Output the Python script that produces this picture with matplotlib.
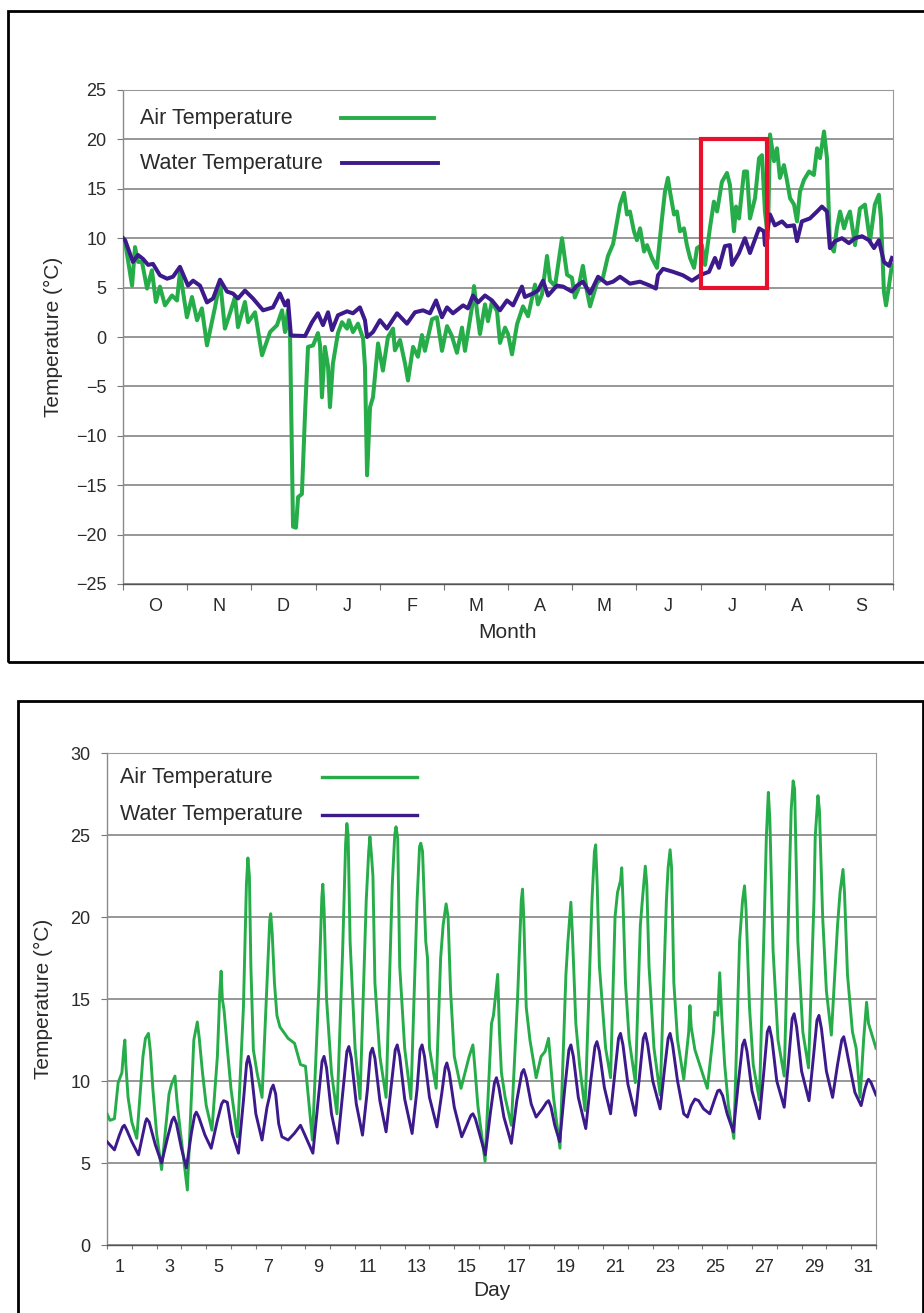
import matplotlib
matplotlib.use("Agg")
import matplotlib.pyplot as plt
from matplotlib.patches import Rectangle
from matplotlib.lines import Line2D

plt.rcParams['font.family'] = ['Liberation Sans', 'DejaVu Sans']

# ---------------- data: top chart (daily, one year Oct-Sep) ----------------
months = ['O', 'N', 'D', 'J', 'F', 'M', 'A', 'M', 'J', 'J', 'A', 'S']
year_days = 365

air_day = [0, 1, 4.3, 5.7, 7.1, 9, 11.4, 13.7, 15.6, 17.5, 19.9, 23.2, 25.6, 27, 30.3, 32.7,
           35.1, 37.4, 39.8, 43.6, 46, 48.3, 50.7, 53.1, 54.5, 57.8, 59.3, 62.6, 65.9, 69.7,
           73, 75.4, 76.8, 78.2, 79.2, 80.6, 82, 83, 84.8, 86.3, 87.7, 90.1, 92.4, 93.4, 94.3,
           95.7, 97.2, 98.1, 99.5, 101.9, 103.8, 106.2, 107.1, 109, 111.4, 113.8, 114.7, 115.7,
           117.1, 118.5, 120.9, 123.2, 125.6, 128, 128.9, 131.3, 133.7, 135.1, 137.5, 139.8,
           141.7, 143.1, 146.5, 148.8, 151.2, 153.6, 155.9, 158.3, 160.7, 162.1, 165.4, 166.4,
           167.8, 169.2, 171.6, 173, 174.9, 177.3, 178.7, 181.1, 182.5, 184.4, 186.8, 189.6,
           192, 195.3, 196.7, 198.6, 201, 202.4, 204.8, 208.1, 210.5, 212.8, 214.2, 215.7, 218,
           219.9, 221.4, 224.7, 227.5, 229.9, 232.3, 235.6, 237.5, 238.9, 240.3, 242.2, 243.6,
           245.1, 247, 248.4, 250.7, 253.1, 255.5, 256.9, 258.3, 259.3, 261.2, 262.6, 264,
           265.9, 267.3, 268.8, 270.7, 272.1, 274.4, 275.9, 278.2, 280.1, 281.6, 283.9, 286.3,
           287.7, 289.6, 290.6, 292, 294.4, 295.8, 297.2, 299.6, 301.5, 302.9, 304.3, 305.7,
           306.7, 308.6, 310, 311.4, 313.3, 314.7, 316.2, 318.1, 319.5, 320.9, 322.8, 325.2,
           327.5, 329, 330.4, 332.3, 333.7, 335.1, 337, 338.4, 339.9, 341.8, 343.2, 344.6, 347,
           349.3, 351.7, 354.1, 356.4, 358.3, 359.3, 360.7, 361.7, 363.1, 364.5]
air_temp = [10, 9.6, 5.2, 9.1, 7.6, 7.6, 4.9, 6.75, 3.55, 5.1, 3.2, 4.2, 3.7, 6.6, 2.0, 4.05,
            1.7, 2.9, -0.85, 3.0, 5.7, 0.85, 2.4, 4.05, 1.0, 3.55, 1.5, 2.5, -1.85, 0.5,
            1.2, 2.7, 0.5, 2.7, 0.0, -19.2, -19.3, -16.2, -15.9, -7.7, -1.0, -0.85, 0.4, -0.8, -6.1,
            -1.0, -3.0, -7.1, -2.7, 0.4, 1.5, 0.85, 1.7, 0.5, 1.35, -0.15, -3.0, -14.0,
            -7.1, -6.1, -0.65, -3.4, 0.0, 0.85, -1.35, -0.3, -2.7, -4.4, -1.0, -2.0,
            0.2, -1.4, 1.8, 2.0, -1.4, 1.1, 0.1, -1.6, 0.95, -1.4, 3.0, 5.15,
            2.6, 0.3, 3.3, 1.6, 3.6, 2.6, -0.6, 0.95, 0.3, -1.75, 1.3, 3.1,
            2.1, 5.3, 3.3, 4.3, 8.2, 5.7, 5.15, 10.0, 6.3, 6.0, 4.0, 4.8, 7.2,
            4.65, 3.1, 5.5, 6.0, 8.2, 9.4, 13.4, 14.6, 12.4, 12.7, 10.7, 9.8,
            11.0, 8.65, 9.3, 8.0, 7.0, 12.0, 14.7, 16.1, 14.7, 12.4, 12.7, 10.7,
            11.0, 9.3, 8.0, 7.0, 9.0, 9.3, 7.3, 11.0, 13.7, 12.7, 15.7, 16.6,
            15.4, 10.7, 13.2, 12.0, 16.75, 16.75, 12.0, 14.05, 18.1, 18.4, 12.7, 10.0,
            20.5, 17.8, 19.1, 16.1, 17.4, 15.9, 14.05, 13.4, 11.7, 14.7, 15.9, 16.75,
            16.4, 19.1, 18.1, 20.8, 18.1, 9.3, 8.65, 11.0, 12.7, 11.0, 12.0, 12.7, 9.3,
            13.0, 13.4, 9.7, 13.4, 14.4, 12.0, 4.6, 3.2, 5.2, 7.3]

water_day = [0, 1, 4.7, 7.1, 9.5, 11.9, 14.2, 17.5, 20.9, 23.7, 27, 30.8, 33.2, 36.5, 39.8,
             42.7, 46, 49.3, 52.1, 54.5, 57.8, 61.6, 66.4, 71.1, 74.4, 76.8, 78.2, 79.6, 86.3,
             89.6, 92.4, 94.8, 97.2, 99.1, 101.9, 106.2, 109, 112.3, 114.7, 115.7, 118.5,
             121.8, 125.1, 129.9, 134.6, 138.4, 142.2, 145.5, 148.4, 151.2, 153.6, 156.4,
             161.2, 163.5, 165.9, 168.3, 171.6, 174.9, 178.7, 182, 184.9, 189.1, 190.5,
             194.3, 196.7, 199.1, 201.5, 205.7, 208.6, 212.8, 215.2, 218, 221.4, 225.2,
             229.4, 232.3, 235.6, 240.3, 245.1, 249.8, 252.6, 253.6, 256, 260.7, 265.4,
             269.7, 274, 277.8, 280.6, 282.5, 285.3, 287.7, 288.7, 292, 294.8, 297.2, 301.5,
             303.8, 304.3, 306.7, 309, 312.4, 314.7, 318.1, 319.5, 321.8, 325.6, 329, 331.3,
             333.7, 335.1, 337.5, 340.8, 344.1, 347, 350.3, 353.6, 356, 358.3, 360.7, 363.1,
             364.5]
water_temp = [10, 9.8, 7.6, 8.3, 7.9, 7.3, 7.4, 6.25, 5.9, 6.1, 7.1, 5.2, 5.7, 5.2, 3.5,
              3.9, 5.8, 4.6, 4.4, 3.9, 4.7, 3.9, 2.7, 3.0, 4.4, 3.2, 3.7, 0.15, 0.1,
              1.5, 2.4, 1.2, 2.5, 0.7, 2.2, 2.6, 2.4, 3.0, 1.7, 0.0, 0.5,
              1.7, 0.85, 2.4, 1.35, 2.5, 2.7, 2.4, 3.7, 2.0, 3.0, 2.4,
              3.2, 2.9, 4.2, 3.5, 4.2, 3.7, 2.7, 3.7, 3.2, 5.1, 4.05,
              4.4, 4.7, 5.7, 4.2, 5.2, 5.1, 4.6, 5.2, 5.6, 4.4, 6.1,
              5.4, 5.6, 6.1, 5.4, 5.6, 5.2, 4.9, 6.25, 6.9, 6.6, 6.25,
              5.7, 6.3, 6.6, 8.0, 7.0, 9.2, 9.3, 7.3, 8.5, 10.0, 8.5, 11.0,
              10.7, 9.3, 12.4, 11.3, 11.7, 11.2, 11.3, 9.7, 11.7, 12.0, 12.7, 13.2,
              12.7, 9.0, 9.7, 10.0, 9.5, 10.0, 10.2, 9.8, 9.0, 9.8, 7.6, 7.2,
              8.0]

# highlighted month (July) and temperature range of the red box
box_month = 9
box_temp_range = (5, 20)

# ---------------- data: bottom chart (July, sub-daily) ----------------
day_labels = list(range(1, 32, 2))
n_days = 31

jul_air_t = [0.0, 0.12, 0.3, 0.45, 0.6, 0.68, 0.72, 0.76, 0.85, 1.0,
             1.2, 1.45, 1.55, 1.67, 1.75, 1.85, 2.0, 2.2, 2.5, 2.6,
             2.74, 2.82, 2.95, 3.24, 3.5, 3.64, 3.72, 3.85, 4.0, 4.23,
             4.45, 4.55, 4.6, 4.65, 4.72, 4.85, 5.0, 5.26, 5.5, 5.62,
             5.68, 5.74, 5.8, 5.9, 6.05, 6.25, 6.45, 6.56, 6.6, 6.66,
             6.75, 6.85, 6.97, 7.3, 7.56, 7.8, 8.0, 8.28, 8.55, 8.66,
             8.7, 8.75, 8.85, 9.05, 9.27, 9.5, 9.62, 9.67, 9.72, 9.8,
             10.0, 10.2, 10.45, 10.55, 10.6, 10.66, 10.72, 10.8, 11.0, 11.25,
             11.5, 11.6, 11.65, 11.72, 11.8, 12.0, 12.25, 12.5, 12.6, 12.65,
             12.72, 12.85, 12.92, 13.0, 13.27, 13.45, 13.55, 13.67, 13.75, 13.85,
             14.0, 14.27, 14.6, 14.75, 14.82, 14.95, 15.24, 15.5, 15.58, 15.75,
             15.82, 15.9, 16.05, 16.3, 16.55, 16.7, 16.75, 16.8, 16.9, 17.05,
             17.3, 17.5, 17.66, 17.8, 18.0, 18.26, 18.5, 18.58, 18.7, 18.76,
             18.9, 19.05, 19.27, 19.55, 19.65, 19.7, 19.76, 19.85, 19.95, 20.1,
             20.3, 20.48, 20.58, 20.7, 20.75, 20.8, 20.9, 21.05, 21.3, 21.5,
             21.58, 21.7, 21.76, 21.85, 22.05, 22.3, 22.55, 22.62, 22.7, 22.76,
             22.85, 23.0, 23.25, 23.45, 23.5, 23.55, 23.7, 24.0, 24.2, 24.45,
             24.5, 24.62, 24.7, 24.78, 24.9, 25.05, 25.27, 25.5, 25.62, 25.7,
             25.76, 25.9, 26.05, 26.3, 26.5, 26.58, 26.66, 26.72, 26.85, 27.05,
             27.3, 27.5, 27.58, 27.66, 27.72, 27.85, 28.05, 28.28, 28.5, 28.55,
             28.66, 28.72, 28.85, 29.0, 29.2, 29.45, 29.55, 29.67, 29.73, 29.85,
             30.05, 30.2, 30.36, 30.5, 30.62, 30.7, 30.8, 30.9, 31.0]
jul_air_temp = [8.0, 7.6, 7.7, 9.9, 10.5, 12.0, 12.5, 11.0, 9.0, 7.5,
                6.5, 11.5, 12.6, 12.9, 11.8, 9.5, 6.8, 4.6, 9.2, 9.8,
                10.3, 8.8, 7.0, 3.35, 12.5, 13.6, 12.6, 10.5, 8.5, 7.0,
                11.5, 15.5, 16.7, 15.0, 14.3, 12.0, 9.5, 6.6, 14.5, 22.0,
                23.6, 22.5, 17.0, 11.9, 10.5, 9.0, 16.0, 19.8, 20.2, 19.0,
                16.0, 14.0, 13.3, 12.6, 12.3, 11.0, 10.9, 6.4, 16.0, 21.2,
                22.0, 20.5, 15.0, 10.5, 8.0, 18.0, 24.5, 25.7, 25.0, 18.5,
                12.0, 8.9, 21.0, 24.0, 24.9, 23.8, 22.5, 16.0, 11.5, 9.0,
                22.0, 25.0, 25.5, 24.8, 17.0, 12.0, 8.9, 21.0, 24.3, 24.5,
                24.0, 18.5, 17.5, 12.0, 9.55, 17.5, 19.5, 20.8, 20.0, 15.5,
                11.5, 9.55, 11.5, 12.2, 11.0, 8.5, 5.1, 13.5, 14.0, 16.5,
                13.0, 10.5, 9.0, 7.3, 15.0, 21.0, 21.7, 20.0, 14.5, 12.5,
                10.2, 11.5, 11.8, 12.6, 9.0, 5.9, 16.5, 18.5, 20.9, 19.0,
                13.5, 11.0, 8.2, 21.0, 24.0, 24.4, 22.0, 17.0, 15.0, 12.0,
                10.2, 20.0, 21.5, 22.2, 23.0, 21.0, 16.0, 12.5, 9.9, 19.5,
                21.0, 23.1, 22.0, 17.0, 12.0, 9.15, 21.0, 23.0, 24.1, 23.0,
                16.0, 12.5, 10.1, 13.0, 14.6, 13.3, 11.9, 10.5, 9.55, 13.0,
                14.2, 14.0, 16.6, 14.0, 11.0, 8.5, 6.5, 18.5, 21.0, 21.9,
                20.5, 14.5, 11.0, 8.85, 20.0, 24.9, 27.6, 26.0, 18.0, 12.5,
                10.3, 22.0, 26.5, 28.3, 27.8, 18.5, 13.0, 10.8, 21.0, 24.9,
                27.4, 26.5, 20.0, 15.5, 12.8, 19.5, 21.5, 22.9, 21.5, 16.5,
                13.0, 12.0, 9.0, 12.5, 14.8, 13.5, 13.0, 12.5, 12.0]

jul_water_t = [0.0, 0.3, 0.5, 0.63, 0.7, 0.8, 1.0, 1.27, 1.45, 1.55,
               1.6, 1.7, 1.95, 2.2, 2.45, 2.62, 2.7, 2.8, 3.0, 3.2,
               3.4, 3.53, 3.6, 3.7, 3.95, 4.2, 4.45, 4.62, 4.7, 4.85,
               5.05, 5.3, 5.5, 5.63, 5.7, 5.8, 6.0, 6.25, 6.45, 6.62,
               6.7, 6.8, 6.92, 7.05, 7.3, 7.55, 7.8, 7.95, 8.3, 8.5,
               8.67, 8.75, 8.85, 9.05, 9.3, 9.5, 9.67, 9.75, 9.85, 10.05,
               10.3, 10.5, 10.62, 10.7, 10.8, 11.0, 11.25, 11.45, 11.62, 11.7,
               11.8, 12.0, 12.3, 12.5, 12.62, 12.7, 12.8, 13.0, 13.3, 13.5,
               13.63, 13.7, 13.8, 14.0, 14.3, 14.5, 14.67, 14.75, 14.85, 15.05,
               15.25, 15.45, 15.62, 15.7, 15.8, 16.0, 16.3, 16.52, 16.72, 16.8,
               16.9, 17.1, 17.3, 17.55, 17.72, 17.8, 17.9, 18.05, 18.25, 18.45,
               18.62, 18.7, 18.8, 19.0, 19.3, 19.5, 19.67, 19.75, 19.85, 20.05,
               20.3, 20.48, 20.62, 20.7, 20.8, 21.0, 21.3, 21.48, 21.62, 21.7,
               21.8, 22.0, 22.3, 22.48, 22.62, 22.7, 22.8, 23.0, 23.25, 23.4,
               23.55, 23.7, 23.85, 24.05, 24.3, 24.5, 24.62, 24.7, 24.82, 25.0,
               25.25, 25.45, 25.62, 25.7, 25.8, 26.0, 26.3, 26.48, 26.62, 26.7,
               26.8, 27.0, 27.3, 27.48, 27.62, 27.7, 27.8, 28.0, 28.3, 28.48,
               28.62, 28.7, 28.8, 29.0, 29.25, 29.45, 29.62, 29.7, 29.8, 29.9,
               30.15, 30.4, 30.55, 30.65, 30.7, 30.8, 31.0]
jul_water_temp = [6.3, 5.8, 6.7, 7.2, 7.3, 7.0, 6.3, 5.5, 6.8, 7.5,
                  7.7, 7.5, 6.1, 5.0, 6.6, 7.6, 7.8, 7.4, 5.9, 4.7,
                  6.8, 7.9, 8.1, 7.8, 6.7, 5.9, 7.6, 8.6, 8.8, 8.7,
                  6.8, 5.6, 8.8, 11.1, 11.5, 10.8, 8.0, 6.4, 8.4, 9.5,
                  9.75, 9.2, 7.4, 6.6, 6.4, 6.8, 7.3, 6.8, 5.6, 8.6,
                  11.2, 11.5, 10.8, 8.0, 6.2, 9.2, 11.8, 12.1, 11.4, 8.6,
                  6.7, 9.5, 11.7, 12.0, 11.4, 8.8, 6.9, 9.6, 11.9, 12.2,
                  11.5, 8.9, 6.8, 9.5, 11.9, 12.2, 11.5, 9.0, 7.2, 9.3,
                  10.8, 11.1, 10.5, 8.4, 6.6, 7.3, 7.9, 8.0, 7.7, 6.6,
                  5.5, 8.0, 9.9, 10.2, 9.6, 7.8, 6.2, 8.8, 10.5, 10.7,
                  10.2, 8.6, 7.8, 8.3, 8.7, 8.8, 8.4, 7.3, 6.3, 9.5,
                  11.9, 12.2, 11.5, 9.0, 7.1, 10.0, 12.1, 12.4, 11.8, 9.6,
                  8.0, 10.6, 12.6, 12.9, 12.2, 9.8, 7.9, 10.5, 12.6, 12.9,
                  12.2, 10.0, 8.3, 10.8, 12.6, 12.9, 12.2, 10.0, 8.0, 7.8,
                  8.5, 8.9, 8.8, 8.3, 8.0, 8.9, 9.4, 9.45, 9.1, 8.0,
                  6.9, 9.9, 12.2, 12.5, 11.8, 9.4, 7.7, 10.6, 13.0, 13.3,
                  12.6, 10.0, 8.4, 11.3, 13.8, 14.1, 13.3, 10.6, 8.8, 11.5,
                  13.7, 14.0, 13.2, 10.6, 9.0, 11.0, 12.5, 12.7, 12.0, 11.2,
                  9.3, 8.5, 9.5, 10.0, 10.1, 9.9, 9.15]

# ---------------- styling ----------------
GREEN = '#26ad4a'
PURPLE = '#3d1a8c'
RED = '#e8112d'
GRID = '#7a7a7a'
TXT = '#2a2a2a'

W, H = 924, 1313
fig = plt.figure(figsize=(W / 100, H / 100), dpi=100)


def fx(px):
    return px / W


def fy(py):
    return 1 - py / H


# outer panel frames
fig.patches.append(Rectangle((fx(8), fy(662)), fx(930) - fx(8), fy(11) - fy(662),
                             transform=fig.transFigure, fill=False, edgecolor='black',
                             linewidth=2.0, zorder=0))
fig.patches.append(Rectangle((fx(18), fy(1330)), fx(922.5) - fx(18), fy(701) - fy(1330),
                             transform=fig.transFigure, fill=False, edgecolor='black',
                             linewidth=2.0, zorder=0))


def style_axes(ax):
    for side in ['top', 'right']:
        ax.spines[side].set_color('#9a9a9a')
        ax.spines[side].set_linestyle((0, (1, 1)))
        ax.spines[side].set_linewidth(0.8)
    ax.spines['left'].set_color('#8a8a8a')
    ax.spines['left'].set_linestyle((0, (1, 1)))
    ax.spines['left'].set_linewidth(1.0)
    ax.spines['bottom'].set_color('#555555')
    ax.spines['bottom'].set_linewidth(1.0)
    ax.yaxis.grid(True, color=GRID, linewidth=1.1)
    ax.set_axisbelow(True)
    ax.tick_params(axis='y', which='major', length=4, width=0.8, color='#777777',
                   labelsize=13, labelcolor=TXT, pad=8)
    ax.tick_params(axis='x', which='major', length=4, width=0.8, color='#777777',
                   labelbottom=False)
    ax.tick_params(axis='x', which='minor', length=0, labelsize=13, labelcolor=TXT, pad=10)


# ---------------- top chart ----------------
ax1 = fig.add_axes([fx(123), fy(584), fx(893) - fx(123), fy(90) - fy(584)])
ax1.plot(air_day, air_temp, color=GREEN, linewidth=2.9, solid_joinstyle='round', zorder=3)
ax1.plot(water_day, water_temp, color=PURPLE, linewidth=2.9, solid_joinstyle='round', zorder=4)
ax1.set_xlim(0, year_days)
ax1.set_ylim(-25, 25)
ax1.set_yticks(range(-25, 30, 5))
ax1.set_yticklabels([str(v).replace('-', '\u2212') for v in range(-25, 30, 5)])
mlen = year_days / 12
ax1.set_xticks([i * mlen for i in range(13)])
ax1.set_xticks([(i + 0.5) * mlen for i in range(12)], minor=True)
ax1.set_xticklabels(months, minor=True)
style_axes(ax1)
ax1.add_patch(Rectangle((box_month * mlen, box_temp_range[0]), mlen * 1.04,
                        box_temp_range[1] - box_temp_range[0], fill=False,
                        edgecolor=RED, linewidth=3.0, zorder=6))
ax1.text(0.5, -0.098, 'Month', transform=ax1.transAxes, ha='center', va='center',
         fontsize=15, color=TXT)
ax1.text((53 - 123) / 770, 0.5, 'Temperature (°C)', transform=ax1.transAxes, rotation=90,
         ha='center', va='center', fontsize=15, color=TXT)
# legend
ax1.text(0.022, 0.943, 'Air Temperature', transform=ax1.transAxes, ha='left', va='center',
         fontsize=15.5, color=TXT)
ax1.text(0.022, 0.852, 'Water Temperature', transform=ax1.transAxes, ha='left', va='center',
         fontsize=15.5, color=TXT)
ax1.add_line(Line2D([0.283, 0.404], [0.943, 0.943], transform=ax1.transAxes, color=GREEN,
                    linewidth=2.8))
ax1.add_line(Line2D([0.285, 0.409], [0.852, 0.852], transform=ax1.transAxes, color=PURPLE,
                    linewidth=2.8))

# ---------------- bottom chart ----------------
ax2 = fig.add_axes([fx(107), fy(1245), fx(876) - fx(107), fy(753) - fy(1245)])
ax2.plot(jul_air_t, jul_air_temp, color=GREEN, linewidth=2.1, solid_joinstyle='round', zorder=3)
ax2.plot(jul_water_t, jul_water_temp, color=PURPLE, linewidth=2.1, solid_joinstyle='round',
         zorder=4)
ax2.set_xlim(0, n_days)
ax2.set_ylim(0, 30)
ax2.set_yticks(range(0, 35, 5))
ax2.set_xticks(range(0, n_days + 1))
ax2.set_xticks([d - 0.5 for d in day_labels], minor=True)
ax2.set_xticklabels([str(d) for d in day_labels], minor=True)
style_axes(ax2)
ax2.tick_params(axis='x', which='major', length=3)
ax2.text(0.5, -0.092, 'Day', transform=ax2.transAxes, ha='center', va='center',
         fontsize=15, color=TXT)
ax2.text((43 - 107) / 769, 0.5, 'Temperature (°C)', transform=ax2.transAxes, rotation=90,
         ha='center', va='center', fontsize=15, color=TXT)
ax2.text(0.017, 0.951, 'Air Temperature', transform=ax2.transAxes, ha='left', va='center',
         fontsize=15.5, color=TXT)
ax2.text(0.017, 0.874, 'Water Temperature', transform=ax2.transAxes, ha='left', va='center',
         fontsize=15.5, color=TXT)
ax2.add_line(Line2D([0.280, 0.403], [0.951, 0.951], transform=ax2.transAxes, color=GREEN,
                    linewidth=2.4))
ax2.add_line(Line2D([0.280, 0.403], [0.874, 0.874], transform=ax2.transAxes, color=PURPLE,
                    linewidth=2.4))

fig.savefig('out.png', dpi=100)
